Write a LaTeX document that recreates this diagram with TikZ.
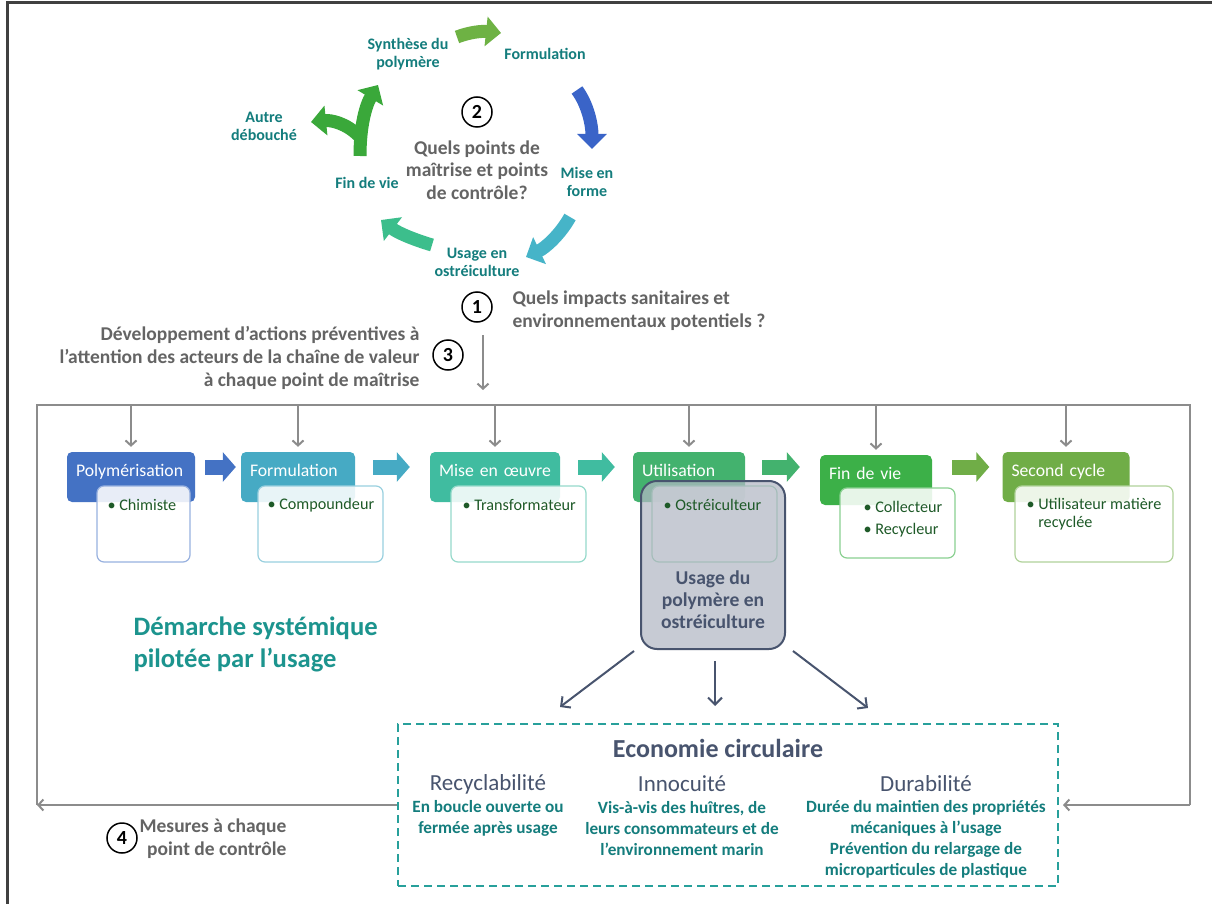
\documentclass[tikz,border=0pt]{standalone}
\usepackage{fontspec}
\setmainfont{Carlito}
\usetikzlibrary{arrows.meta}
\definecolor{framegray}{RGB}{64,64,64}
\definecolor{linkgray}{RGB}{140,140,140}
\definecolor{tealtxt}{RGB}{20,125,125}
\definecolor{tealbig}{RGB}{28,148,142}
\definecolor{graytxt}{RGB}{100,100,100}
\definecolor{slate}{RGB}{72,84,110}
\definecolor{itemgreen}{RGB}{30,90,40}
\definecolor{boxgray}{RGB}{178,184,196}
\definecolor{dashteal}{RGB}{40,160,155}
\definecolor{cA}{RGB}{68,114,196}
\definecolor{cB}{RGB}{70,170,196}
\definecolor{cC}{RGB}{64,188,160}
\definecolor{cD}{RGB}{67,178,110}
\definecolor{cE}{RGB}{60,176,72}
\definecolor{cF}{RGB}{112,173,71}
\definecolor{arTop}{RGB}{110,178,68}
\definecolor{arBlue}{RGB}{58,100,200}
\definecolor{arCyan}{RGB}{70,180,200}
\definecolor{arTeal}{RGB}{60,190,140}
\definecolor{arGreen}{RGB}{58,168,58}
\begin{document}
\begin{tikzpicture}[x=1pt,y=-1pt,
  cyc/.style={draw=#1,line width=13pt,-{Triangle[length=15pt,width=29pt]}},
  flow/.style={draw=#1,line width=15pt,-{Triangle[length=13pt,width=29pt]}},
  link/.style={draw=linkgray,line width=2pt,-{Straight Barb[length=5pt,width=11pt]}},
  slatelink/.style={draw=slate,line width=2pt,-{Straight Barb[length=7pt,width=14pt]}},
  num/.style={draw,circle,line width=1.5pt,minimum size=30pt,inner sep=0pt,font=\fontsize{20}{20}\selectfont\bfseries},
  cyclbl/.style={text=tealtxt,align=center,font=\fontsize{16}{18}\selectfont\bfseries},
  ask/.style={text=graytxt,font=\fontsize{19.5}{23}\selectfont\bfseries},
  head/.style={fill=#1,rounded corners=5pt,text=white,minimum height=50pt,align=left,inner xsep=9pt,text height=12pt,text depth=13pt,font=\fontsize{17.7}{20}\selectfont},
  sub/.style={draw=#1,fill=white,fill opacity=0.88,rounded corners=7pt,line width=1.2pt,minimum height=76pt},
  item/.style={text=itemgreen,align=left,font=\fontsize{16.2}{21.5}\selectfont},
  ecotitle/.style={text=slate,font=\fontsize{23}{24}\selectfont},
  ecotxt/.style={text=tealtxt,align=center,font=\fontsize{17.2}{21}\selectfont\bfseries}]
\fill[white] (0,0) rectangle (1212,904);
\useasboundingbox (0,0) rectangle (1212,904);
\draw[framegray,line width=3pt] (7,904) -- (7,3) -- (1212,3);

\node (syn) at (408,54) [cyclbl] {Synthèse du\\polymère};
\node (form) at (545,54) [cyclbl] {Formulation};
\node (mise) at (587,182) [cyclbl] {Mise en\\forme};
\node (usg) at (477,262) [cyclbl] {Usage en\\ostréiculture};
\node (fin) at (367,183) [cyclbl] {Fin de vie};
\node (autre) at (264,126) [cyclbl] {Autre\\débouché};
\node (n2) at (477,112) [num] {2};
\node (q2) at (477,170) [text=graytxt,align=center,font=\fontsize{19.5}{22.5}\selectfont\bfseries] {Quels points de\\maîtrise et points\\de contrôle?};
\coordinate (a1) at (457,37);
\coordinate (b1) at (501,33);
\coordinate (a2) at (577,90);
\coordinate (b2) at (592,149);
\coordinate (a3) at (570,217);
\coordinate (b3) at (526,257);
\coordinate (a4) at (432,245);
\coordinate (b4) at (381,220);
\coordinate (a5) at (360,156);
\coordinate (b5) at (378,85);
\coordinate (a6) at (359,136);
\coordinate (b6) at (311,122);
\draw[cyc=arTop] (a1) ..controls (470,32) and (482,31) .. (b1);
\draw[cyc=arBlue] (a2) ..controls (588,105) and (592,125) .. (b2);
\draw[cyc=arCyan] (a3) ..controls (560,235) and (545,248) .. (b3);
\draw[cyc=arTeal] (a4) ..controls (415,240) and (398,233) .. (b4);
\draw[cyc=arGreen] (a6) ..controls (346,123) and (331,120) .. (b6);
\draw[cyc=arGreen] (a5) ..controls (360,125) and (366,105) .. (b5);

\node (n1) at (477,307) [num] {1};
\node (q1) at (509,310.5) [ask,anchor=west,align=left] {Quels impacts sanitaires et\\environnementaux potentiels ?};
\node (n3) at (448,355) [num] {3};
\node (q3) at (423,358) [ask,anchor=east,align=right] {Développement d’actions préventives à\\l’attention des acteurs de la chaîne de valeur\\à chaque point de maîtrise};
\coordinate (d0) at (483,335);
\coordinate (d1) at (483,390);
\draw[link] (d0) -- (d1);

\coordinate (tl) at (37,405);
\coordinate (tr) at (1190,405);
\coordinate (bl) at (37,805);
\coordinate (br) at (1190,805);
\node (eco) at (728,805) [draw=dashteal,dashed,dash pattern=on 8pt off 5pt,line width=2pt,minimum width=660pt,minimum height=162pt] {};
\draw[draw=linkgray,line width=2pt] (bl) -- (tl) -- (tr) -- (br);
\draw[link,shorten >=4pt] (br) -- (eco.east);
\draw[link] (eco.west) -- (bl);

\node (h1) at (131,477) [head=cA,text width=110pt] {Polymérisation};
\node (h2) at (298,477) [head=cB,text width=96pt] {Formulation};
\node (h3) at (495,477) [head=cC,text width=112pt] {Mise en œuvre};
\node (h4) at (689,477) [head=cD,text width=94pt] {Utilisation};
\node (h5) at (876,480) [head=cE,text width=94pt] {Fin de vie};
\node (h6) at (1066,477) [head=cF,text width=109pt] {Second cycle};
\foreach \h in {h1,h2,h3,h4,h5,h6}
  \draw[link,shorten >=5pt] (\h.north |- tl) -- (\h.north);
\draw[flow=cA,shorten <=10pt,shorten >=5pt] ([yshift=10pt]h1.east) -- ([yshift=10pt]h2.west);
\draw[flow=cB,shorten <=18pt,shorten >=20pt] ([yshift=10pt]h2.east) -- ([yshift=10pt]h3.west);
\draw[flow=cC,shorten <=18pt,shorten >=18pt] ([yshift=10pt]h3.east) -- ([yshift=10pt]h4.west);
\draw[flow=cD,shorten <=17pt,shorten >=20pt] ([yshift=10pt]h4.east) -- ([yshift=13pt]h5.west);
\draw[flow=cF,shorten <=20pt,shorten >=13pt] ([yshift=13pt]h5.east) -- ([yshift=10pt]h6.west);
\node (s1) at (143.5,524) [sub=cA!55,minimum width=93pt] {};
\node (s2) at (320.5,524) [sub=cB!55,minimum width=125pt] {};
\node (s3) at (518.5,524) [sub=cC!55,minimum width=135pt] {};
\node (s4) at (714.5,524) [sub=cD!65,minimum width=125pt] {};
\node (s5) at (897.5,523) [sub=cE!60,minimum width=115pt,minimum height=70pt] {};
\node (s6) at (1094,524) [sub=cF!55,minimum width=158pt] {};
\node (t1) at (104,505) [item,anchor=west] {• Chimiste};
\node (t2) at (264,505) [item,anchor=west] {• Compoundeur};
\node (t3) at (459,505) [item,anchor=west] {• Transformateur};
\node (t5) at (860,519) [item,anchor=west] {• Collecteur\\• Recycleur};
\node (t6) at (1023,514) [item,anchor=west,font=\fontsize{16.2}{17.5}\selectfont] {• Utilisateur matière\\\phantom{• }recyclée};

\node (usage) at (713,565) [draw=slate,line width=2pt,fill=boxgray,fill opacity=0.72,rounded corners=16pt,minimum width=144pt,minimum height=168pt] {};
\node (t4) at (660,505) [item,anchor=west] {• Ostréiculteur};
\node (usaget) at (713,600) [text=slate,align=center,font=\fontsize{19.6}{22}\selectfont\bfseries] {Usage du\\polymère en\\ostréiculture};
\coordinate (e1) at (560,707);
\coordinate (e2) at (715,706);
\coordinate (e3) at (868,708);
\draw[slatelink] ([xshift=-6pt,yshift=-1pt]usage.south west) -- (e1);
\draw[slatelink] ([xshift=2pt,yshift=-11pt]usage.south) -- (e2);
\draw[slatelink] ([xshift=7pt,yshift=-1pt]usage.south east) -- (e3);

\node (dem) at (130,644) [anchor=west,text=tealbig,align=left,font=\fontsize{26.6}{32}\selectfont\bfseries] {Démarche systémique\\pilotée par l’usage};

\node (ecot) at (718,748) [text=slate,font=\fontsize{26}{28}\selectfont\bfseries] {Economie circulaire};
\node (rec) at (488,784) [ecotitle] {Recyclabilité};
\node (inn) at (682,784) [ecotitle] {Innocuité};
\node (dur) at (926,784) [ecotitle] {Durabilité};
\node (recb) at (488,818.5) [ecotxt] {En boucle ouverte ou\\fermée après usage};
\node (innb) at (682,829) [ecotxt] {Vis-à-vis des huîtres, de\\leurs consommateurs et de\\l’environnement marin};
\node (durb) at (926,839.5) [ecotxt] {Durée du maintien des propriétés\\mécaniques à l’usage\\Prévention du relargage de\\microparticules de plastique};

\node (n4) at (122,838) [num] {4};
\node (q4) at (290,839) [ask,anchor=east,align=right] {Mesures à chaque\\point de contrôle};
\end{tikzpicture}
\end{document}
